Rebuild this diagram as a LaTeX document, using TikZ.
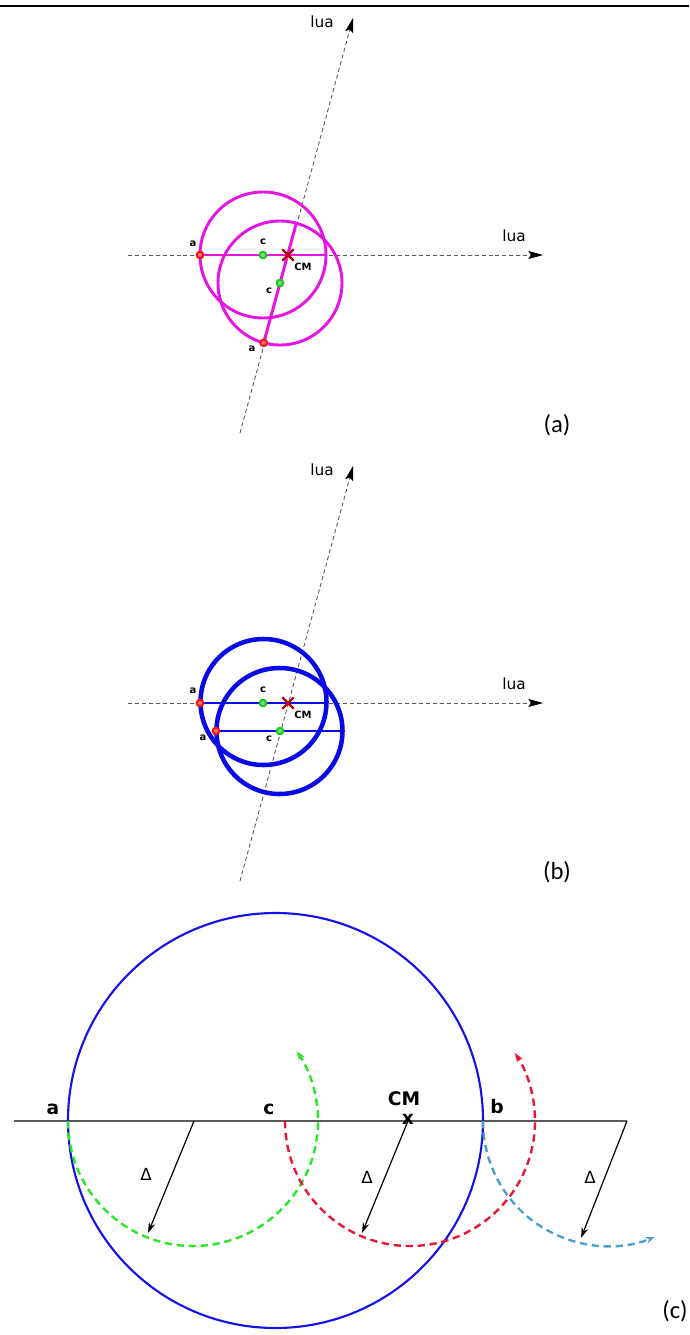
\documentclass[tikz,border=0pt]{standalone}
\usepackage{fontspec}
\setmainfont{DejaVu Sans}
\newfontfamily\carl{Carlito}
\usetikzlibrary{arrows.meta,shapes.misc}
\definecolor{mag}{RGB}{228,20,228}
\definecolor{bblue}{RGB}{10,10,230}
\definecolor{cblue}{RGB}{20,20,230}
\definecolor{garc}{RGB}{40,230,40}
\definecolor{rarc}{RGB}{235,20,50}
\definecolor{sarc}{RGB}{75,160,205}
\definecolor{rdot}{RGB}{240,20,20}
\definecolor{gdot}{RGB}{30,200,30}
\definecolor{cmred}{RGB}{180,0,0}
\definecolor{axgray}{RGB}{85,85,85}
\tikzset{
  axisline/.style={axgray, line width=0.65pt, dash pattern=on 3pt off 2.2pt, -{Stealth[length=11pt,width=6pt,inset=2pt,black]}},
  lualbl/.style={font=\fontsize{11.5}{13}\selectfont, inner sep=0pt},
  smlbl/.style={font=\bfseries\fontsize{7.5}{9}\selectfont, inner sep=0pt},
  biglbl/.style={font=\bfseries\fontsize{14}{16}\selectfont, inner sep=0pt},
  dlbl/.style={font=\fontsize{12.5}{14}\selectfont, inner sep=0pt},
  panlbl/.style={font=\carl\fontsize{18.5}{21}\selectfont, inner sep=0pt},
  magline/.style={mag, line width=2.2pt},
  bline/.style={bblue, line width=3.4pt},
  bseg/.style={bblue, line width=2.2pt},
  reddot/.style={circle, draw=rdot, fill=rdot!60!white, line width=1.5pt, minimum size=5pt, inner sep=0pt},
  grndot/.style={circle, draw=gdot, fill=gdot!60!white, line width=1.5pt, minimum size=5pt, inner sep=0pt},
  cmmark/.style={cross out, draw=cmred, line width=1.6pt, minimum size=7pt, inner sep=0pt},
  darc/.style={line width=1.8pt, dash pattern=on 5.5pt off 3.5pt},
  darrow/.style={black, line width=0.9pt, -{Stealth[length=8pt,width=5pt]}},
}
\begin{document}
\begin{tikzpicture}[x=0.75pt,y=0.75pt]
\useasboundingbox (0,0) rectangle (689,-1335);
% top rule
\coordinate (topL) at (0,-6);
\coordinate (topR) at (689,-6);
\draw[black, line width=1.9pt] (topL) -- (topR);

% ================= panel (a)
\coordinate (hA0) at (128,-255); \coordinate (hA1) at (543,-255);
\coordinate (oA0) at (240,-433); \coordinate (oA1) at (353,-18);
\draw[axisline] (hA0) -- (hA1);
\draw[axisline] (oA0) -- (oA1);
\node[lualbl] (luaAo) at (322,-22) {lua};
\node[lualbl] (luaAh) at (514,-236) {lua};
\coordinate (cA1) at (263,-255);
\coordinate (cA2) at (280,-283);
\coordinate (aA1) at (200,-255);
\coordinate (eA1) at (326,-255);
\coordinate (aA2) at (263.7,-342.8);
\coordinate (eA2) at (296.3,-223.2);
\coordinate (cmA) at (288,-255);
\draw[magline] (cA1) circle[radius=63];
\draw[magline] (cA2) circle[radius=62];
\draw[magline] (aA1) -- (eA1);
\draw[magline] (aA2) -- (eA2);
\node[reddot] (dA1) at (aA1) {};
\node[reddot] (dA2) at (aA2) {};
\node[grndot] (gA1) at (cA1) {};
\node[grndot] (gA2) at (cA2) {};
\node[cmmark] (xA) at (cmA) {};
\node[smlbl] (la1) at (193,-244) {a};
\node[smlbl] (lc1) at (263,-242) {c};
\node[smlbl] (lcm) at (303,-267) {CM};
\node[smlbl] (lc2) at (269,-291) {c};
\node[smlbl] (la2) at (252,-349) {a};
\node[panlbl] (pa) at (557,-425) {(a)};

% ================= panel (b)
\coordinate (hB0) at (128,-703); \coordinate (hB1) at (543,-703);
\coordinate (oB0) at (240,-881); \coordinate (oB1) at (353,-466);
\draw[axisline] (hB0) -- (hB1);
\draw[axisline] (oB0) -- (oB1);
\node[lualbl] (luaBo) at (322,-470) {lua};
\node[lualbl] (luaBh) at (514,-684) {lua};
\coordinate (cB1) at (263.5,-702);
\coordinate (cB2) at (279.5,-731);
\coordinate (aB1) at (200,-703);
\coordinate (eB1) at (326,-703);
\coordinate (aB2) at (216,-731);
\coordinate (eB2) at (342,-731);
\coordinate (cmB) at (288,-703);
\draw[bline] (cB1) circle[radius=63];
\draw[bline] (cB2) circle[radius=63];
\draw[bseg] (aB1) -- (eB1);
\draw[bseg] (aB2) -- (eB2);
\node[reddot] (dB1) at (aB1) {};
\node[reddot] (dB2) at (aB2) {};
\node[grndot] (gB1) at (263,-703) {};
\node[grndot] (gB2) at (280,-731) {};
\node[cmmark] (xB) at (cmB) {};
\node[smlbl] (lb1) at (193,-691) {a};
\node[smlbl] (lbc1) at (263,-690) {c};
\node[smlbl] (lbcm) at (303,-715) {CM};
\node[smlbl] (lb2) at (203,-738) {a};
\node[smlbl] (lbc2) at (269,-739) {c};
\node[panlbl] (pb) at (557,-872) {(b)};

% ================= panel (c)
\coordinate (lineL) at (14,-1121);
\coordinate (lineR) at (627,-1121);
\draw[gray!70!black, line width=1.1pt] (lineL) -- (lineR);
\coordinate (bigC) at (275.5,-1120.5);
\draw[cblue, line width=1.6pt] (bigC) circle[radius=207.5];
% dashed arcs
\coordinate (gC) at (193,-1121);
\coordinate (rC) at (410,-1121);
\coordinate (sC) at (608,-1121);
\draw[darc, garc, -{Stealth[length=7pt,width=5pt]}] (gC) ++(180:125) arc[start angle=180, end angle=394, radius=125];
\draw[darc, rarc, -{Stealth[length=7pt,width=5pt]}] (rC) ++(180:125) arc[start angle=180, end angle=393, radius=125];
\draw[darc, sarc, -{Stealth[length=7pt,width=5pt]}] (sC) ++(180:125) arc[start angle=180, end angle=292, radius=125];
% delta arrows
\coordinate (g0) at (194,-1121); \coordinate (g1) at (148,-1233);
\coordinate (r0) at (408,-1121); \coordinate (r1) at (362,-1233);
\coordinate (s0) at (627,-1121); \coordinate (s1) at (581,-1238);
\draw[darrow] (g0) -- (g1);
\draw[darrow] (r0) -- (r1);
\draw[darrow] (s0) -- (s1);
\node[dlbl] (d1) at (146,-1174) {Δ};
\node[dlbl] (d2) at (367,-1177) {Δ};
\node[dlbl] (d3) at (590,-1177) {Δ};
\node[biglbl] (ca) at (53,-1109) {a};
\node[biglbl] (cc) at (269,-1109) {c};
\node[biglbl] (ccm) at (404,-1099) {CM};
\node[biglbl] (cb) at (497,-1107) {b};
\node[biglbl] (cx) at (408,-1119) {x};
\node[panlbl] (pc) at (675,-1311) {(c)};
\end{tikzpicture}
\end{document}
